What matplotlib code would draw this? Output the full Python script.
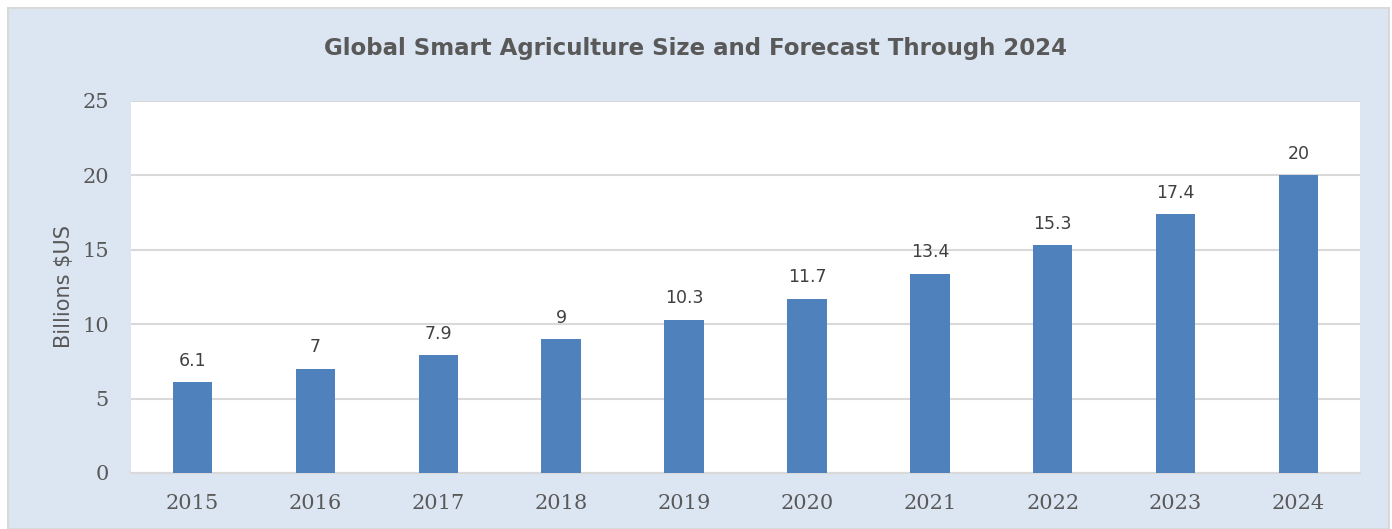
import matplotlib.pyplot as plt
from matplotlib.patches import Rectangle

# chart data
years = ['2015', '2016', '2017', '2018', '2019', '2020', '2021', '2022', '2023', '2024']
market_size = [6.1, 7, 7.9, 9, 10.3, 11.7, 13.4, 15.3, 17.4, 20]
bar_labels = ['6.1', '7', '7.9', '9', '10.3', '11.7', '13.4', '15.3', '17.4', '20']
y_ticks = [0, 5, 10, 15, 20, 25]

W, H = 1392, 529
fig = plt.figure(figsize=(W / 100, H / 100), dpi=100)
fig.patch.set_facecolor('white')

# outer chart area with light border (behind the axes)
fig.patches.append(Rectangle((8 / W, 0), (1389 - 8) / W, (H - 8) / H,
                             transform=fig.transFigure, facecolor='#DCE6F2',
                             edgecolor='#D9D9D9', linewidth=1.5, zorder=-10))

ax = fig.add_axes([131 / W, 1 - 473 / H, (1360 - 131) / W, (473 - 101) / H])
ax.set_facecolor('white')

x = range(len(years))
bars = ax.bar(x, market_size, width=0.32, color='#4F81BD', zorder=3)
for rect, lab in zip(bars, bar_labels):
    ax.annotate(lab, (rect.get_x() + rect.get_width() / 2, rect.get_height()),
                xytext=(0, 9), textcoords='offset points', ha='center', va='bottom',
                fontsize=12.5, color='#404040', family='DejaVu Sans')

ax.set_xlim(-0.5, len(years) - 0.5)
ax.set_ylim(0, 25)
ax.set_xticks(list(x))
ax.set_xticklabels(years)
ax.set_yticks(y_ticks)
ax.set_yticklabels([str(t) for t in y_ticks])
for lab in ax.get_xticklabels() + ax.get_yticklabels():
    lab.set_family('DejaVu Serif')
    lab.set_fontsize(15)
    lab.set_color('#595959')
ax.tick_params(axis='both', length=0)
ax.tick_params(axis='x', pad=15)
ax.tick_params(axis='y', pad=16)

ax.grid(axis='y', color='#D9D9D9', linewidth=1.5, zorder=0)
for s in ['top', 'right', 'left']:
    ax.spines[s].set_visible(False)
ax.spines['bottom'].set_color('#D9D9D9')
ax.spines['bottom'].set_linewidth(1.5)

ax.set_ylabel('Billions $US', fontsize=15, color='#595959', labelpad=6)

fig.text(0.5, 1 - 48 / H, 'Global Smart Agriculture Size and Forecast Through 2024',
         ha='center', va='center', fontsize=16.5, fontweight='bold', color='#595959')

fig.savefig('out.png', dpi=100)
